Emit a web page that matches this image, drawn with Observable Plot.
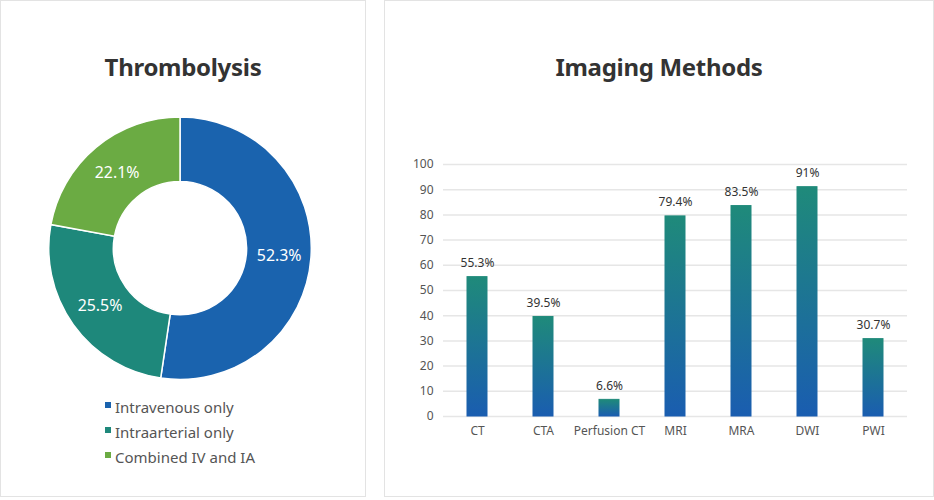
<!DOCTYPE html>
<html>
<head>
<meta charset="utf-8">
<script src="https://cdn.jsdelivr.net/npm/d3@7"></script>
<script src="https://cdn.jsdelivr.net/npm/@observablehq/plot@0.6"></script>
<style>
  html, body { margin: 0; padding: 0; background: #fff; }
  body { width: 934px; height: 500px; position: relative; font-family: "Noto Sans", sans-serif; overflow: hidden; }
  .panel { position: absolute; top: 0; height: 497px; border: 1px solid #e3e3e3; box-sizing: border-box; background: #fff; }
  .title { position: absolute; left: 0; right: 0; top: 49px; text-align: center; font-size: 24px; font-weight: bold; color: #333; letter-spacing: -0.3px; }
  .chart { position: absolute; left: 0; }
  .legend { position: absolute; left: 104px; top: 395px; font-size: 15px; color: #555; }
  .legend div { height: 25px; line-height: 22px; position: relative; padding-left: 10px; }
  .legend span.sw { position: absolute; left: 0; top: 6px; width: 6px; height: 6px; }
</style>
</head>
<body>
<div class="panel" id="left" style="left:0; width:366px;">
  <div class="title">Thrombolysis</div>
  <div class="chart" id="donut"></div>
  <div class="legend" id="legend"></div>
</div>
<div class="panel" id="right" style="left:384px; width:550px;">
  <div class="title">Imaging Methods</div>
  <div class="chart" id="bars"></div>
</div>
<script>
// ---- Data ----
const thrombCategories = ["Intravenous only", "Intraarterial only", "Combined IV and IA"];
const thrombValues = [52.3, 25.5, 22.1];
const thrombColors = ["#1a63ae", "#1e887b", "#6bab43"];

const imagingCategories = ["CT", "CTA", "Perfusion CT", "MRI", "MRA", "DWI", "PWI"];
const imagingValues = [55.3, 39.5, 6.6, 79.4, 83.5, 91, 30.7];
const yTicks = [0, 10, 20, 30, 40, 50, 60, 70, 80, 90, 100];

// ---- Donut ----
const thromb = thrombCategories.map((c, i) => ({category: c, value: thrombValues[i], color: thrombColors[i]}));
const pie = d3.pie().value(d => d.value).sort(null)(thromb);
const outerR = 1, innerR = 67 / 132;
const labelR = (outerR + innerR) / 2;
const labels = pie.map(p => {
  const a = (p.startAngle + p.endAngle) / 2;
  return {x: labelR * Math.sin(a), y: labelR * Math.cos(a), text: p.data.value + "%"};
});

const dW = 366, dH = 290, cx = 180, cy = 145;
const donut = Plot.plot({
  width: dW, height: dH,
  margin: 0,
  x: {domain: [-1, 1], range: [cx - 132, cx + 132], axis: null},
  y: {domain: [-1, 1], range: [cy + 132, cy - 132], axis: null},
  marks: [
    (index, scales) => {
      const r = scales.x(1) - scales.x(0);
      const arc = d3.arc().innerRadius(r * innerR).outerRadius(r * outerR);
      const g = d3.create("svg:g").attr("transform", `translate(${scales.x(0)},${scales.y(0)})`);
      g.selectAll("path").data(pie).join("path")
        .attr("d", arc)
        .attr("fill", d => d.data.color)
        .attr("stroke", "#fff")
        .attr("stroke-width", 1.5);
      return g.node();
    },
    Plot.text(labels, {x: "x", y: "y", text: "text", fill: "#fff", fontSize: 16, fontFamily: "Noto Sans"})
  ]
});
const dEl = document.getElementById("donut");
dEl.style.top = (248 - cy) + "px";
dEl.appendChild(donut);

const lg = document.getElementById("legend");
thromb.forEach(d => {
  const row = document.createElement("div");
  row.innerHTML = `<span class="sw" style="background:${d.color}"></span>${d.category}`;
  lg.appendChild(row);
});

// ---- Bars ----
const imaging = imagingCategories.map((c, i) => ({category: c, value: imagingValues[i]}));
const bW = 548, bH = 310;
const bars = Plot.plot({
  width: bW, height: bH,
  marginLeft: 58, marginRight: 26, marginTop: 23, marginBottom: 35,
  style: {fontFamily: "Noto Sans", fontSize: "12px", color: "#555", overflow: "visible"},
  x: {domain: imagingCategories, paddingInner: 0.7, paddingOuter: 0.35, label: null, tickSize: 0, tickPadding: 10},
  y: {domain: [0, 100], ticks: yTicks, label: null, tickSize: 0, tickPadding: 10},
  marks: [
    () => {
      const svg = d3.create("svg:defs");
      const lg = svg.append("linearGradient").attr("id", "barGrad").attr("x1", 0).attr("x2", 0).attr("y1", 0).attr("y2", 1);
      lg.append("stop").attr("offset", "0%").attr("stop-color", "#1f8a7a");
      lg.append("stop").attr("offset", "100%").attr("stop-color", "#1a5db0");
      return svg.node();
    },
    Plot.gridY(yTicks, {stroke: "#e6e6e6", strokeOpacity: 1, strokeWidth: 1.5}),
    Plot.barY(imaging, {x: "category", y: "value", fill: "url(#barGrad)", stroke: "url(#barGrad)", strokeWidth: 1}),
    Plot.text(imaging, {x: "category", y: "value", text: d => d.value + "%", dy: -14, fill: "#333", fontSize: 12})
  ]
});
const bEl = document.getElementById("bars");
bEl.style.top = "140px";
bEl.appendChild(bars);
</script>
</body>
</html>
